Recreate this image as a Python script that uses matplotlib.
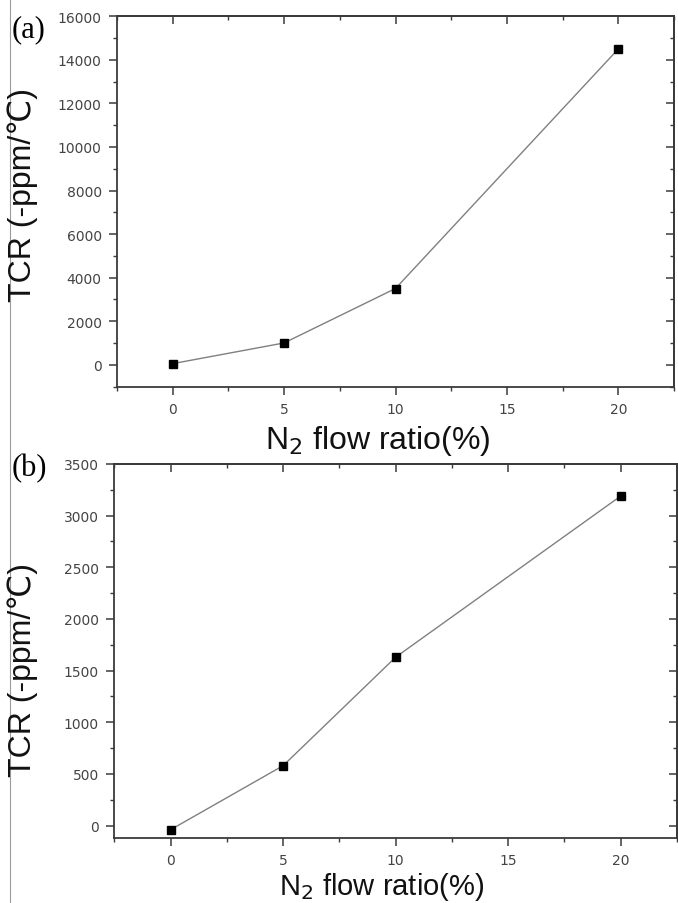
import matplotlib
matplotlib.use("Agg")
import matplotlib.pyplot as plt
from matplotlib.ticker import MultipleLocator

# Data
n2_ratio = [0, 5, 10, 20]
tcr_a = [50, 1000, 3500, 14500]
tcr_b = [-40, 580, 1630, 3190]

SANS = ["Liberation Sans", "DejaVu Sans"]
TICK_COLOR = "#444444"
SPINE_COLOR = "#3a3a3a"

fig = plt.figure(figsize=(6.78, 9.04), dpi=100)


def style_axes(ax, ymajor, yminor):
    ax.set_xlim(-2.5, 22.5)
    ax.xaxis.set_major_locator(MultipleLocator(5))
    ax.xaxis.set_minor_locator(MultipleLocator(2.5))
    ax.yaxis.set_major_locator(MultipleLocator(ymajor))
    ax.yaxis.set_minor_locator(MultipleLocator(yminor))
    for sp in ax.spines.values():
        sp.set_color(SPINE_COLOR)
        sp.set_linewidth(1.3)
    ax.tick_params(which="major", direction="out", length=6, width=1.1,
                   color=SPINE_COLOR, labelsize=10, labelcolor=TICK_COLOR, pad=5)
    ax.tick_params(which="minor", direction="out", length=3, width=1.0,
                   color=SPINE_COLOR)
    for lab in ax.get_xticklabels() + ax.get_yticklabels():
        lab.set_family("DejaVu Sans")
    # mirrored ticks on top and right, pointing inward
    top = ax.secondary_xaxis("top")
    top.xaxis.set_major_locator(MultipleLocator(5))
    top.xaxis.set_minor_locator(MultipleLocator(2.5))
    top.tick_params(which="major", direction="in", length=6, width=1.1,
                    color=SPINE_COLOR, labeltop=False)
    top.tick_params(which="minor", direction="in", length=3, width=1.0,
                    color=SPINE_COLOR)
    right = ax.secondary_yaxis("right")
    right.yaxis.set_major_locator(MultipleLocator(ymajor))
    right.yaxis.set_minor_locator(MultipleLocator(yminor))
    right.tick_params(which="major", direction="in", length=6, width=1.1,
                      color=SPINE_COLOR, labelright=False)
    right.tick_params(which="minor", direction="in", length=3, width=1.0,
                      color=SPINE_COLOR)
    for sec in (top, right):
        for sp in sec.spines.values():
            sp.set_color(SPINE_COLOR)
            sp.set_linewidth(1.3)


# panel (a)
ax_a = fig.add_axes([117 / 678, 1 - 387.5 / 904, (674 - 117) / 678, (387.5 - 17.3) / 904])
ax_a.plot(n2_ratio, tcr_a, color="#808080", lw=1.0, marker="s", ms=5.5,
          mfc="black", mec="black")
ax_a.set_ylim(-1000, 16000)
style_axes(ax_a, 2000, 1000)

# panel (b)
ax_b = fig.add_axes([114.3 / 678, 1 - 839 / 904, (677 - 114.3) / 678, (839 - 465) / 904])
ax_b.plot(n2_ratio, tcr_b, color="#808080", lw=1.0, marker="s", ms=5.5,
          mfc="black", mec="black")
ax_b.set_ylim(-120, 3500)
style_axes(ax_b, 500, 250)

# axis titles
ylab = "TCR (-ppm/\u2103)"
xlab = "N$_2$ flow ratio(%)"
fig.text(23 / 678, 1 - 195 / 904, ylab, rotation=90, ha="center", va="center",
         fontsize=23, family=SANS, color="#111111")
fig.text(23 / 678, 1 - 670 / 904, ylab, rotation=90, ha="center", va="center",
         fontsize=23, family=SANS, color="#111111")
fig.text(378 / 678, 1 - 448.6 / 904, xlab, ha="center", va="baseline",
         fontsize=23, family=SANS, color="#111111")
fig.text(382 / 678, 1 - 895 / 904, xlab, ha="center", va="baseline",
         fontsize=21, family=SANS, color="#111111")

# panel letters
fig.text(29 / 678, 1 - 30 / 904, "(a)", ha="center", va="center",
         fontsize=22, family=["Liberation Serif", "DejaVu Serif"])
fig.text(29 / 678, 1 - 469 / 904, "(b)", ha="center", va="center",
         fontsize=22, family=["Liberation Serif", "DejaVu Serif"])

# thin scan border on the left edge
fig.add_artist(plt.Line2D([9.5 / 678, 9.5 / 678], [0, 1], transform=fig.transFigure,
                          color="#9a9a9a", lw=0.8))

fig.savefig("out.png", dpi=100)
